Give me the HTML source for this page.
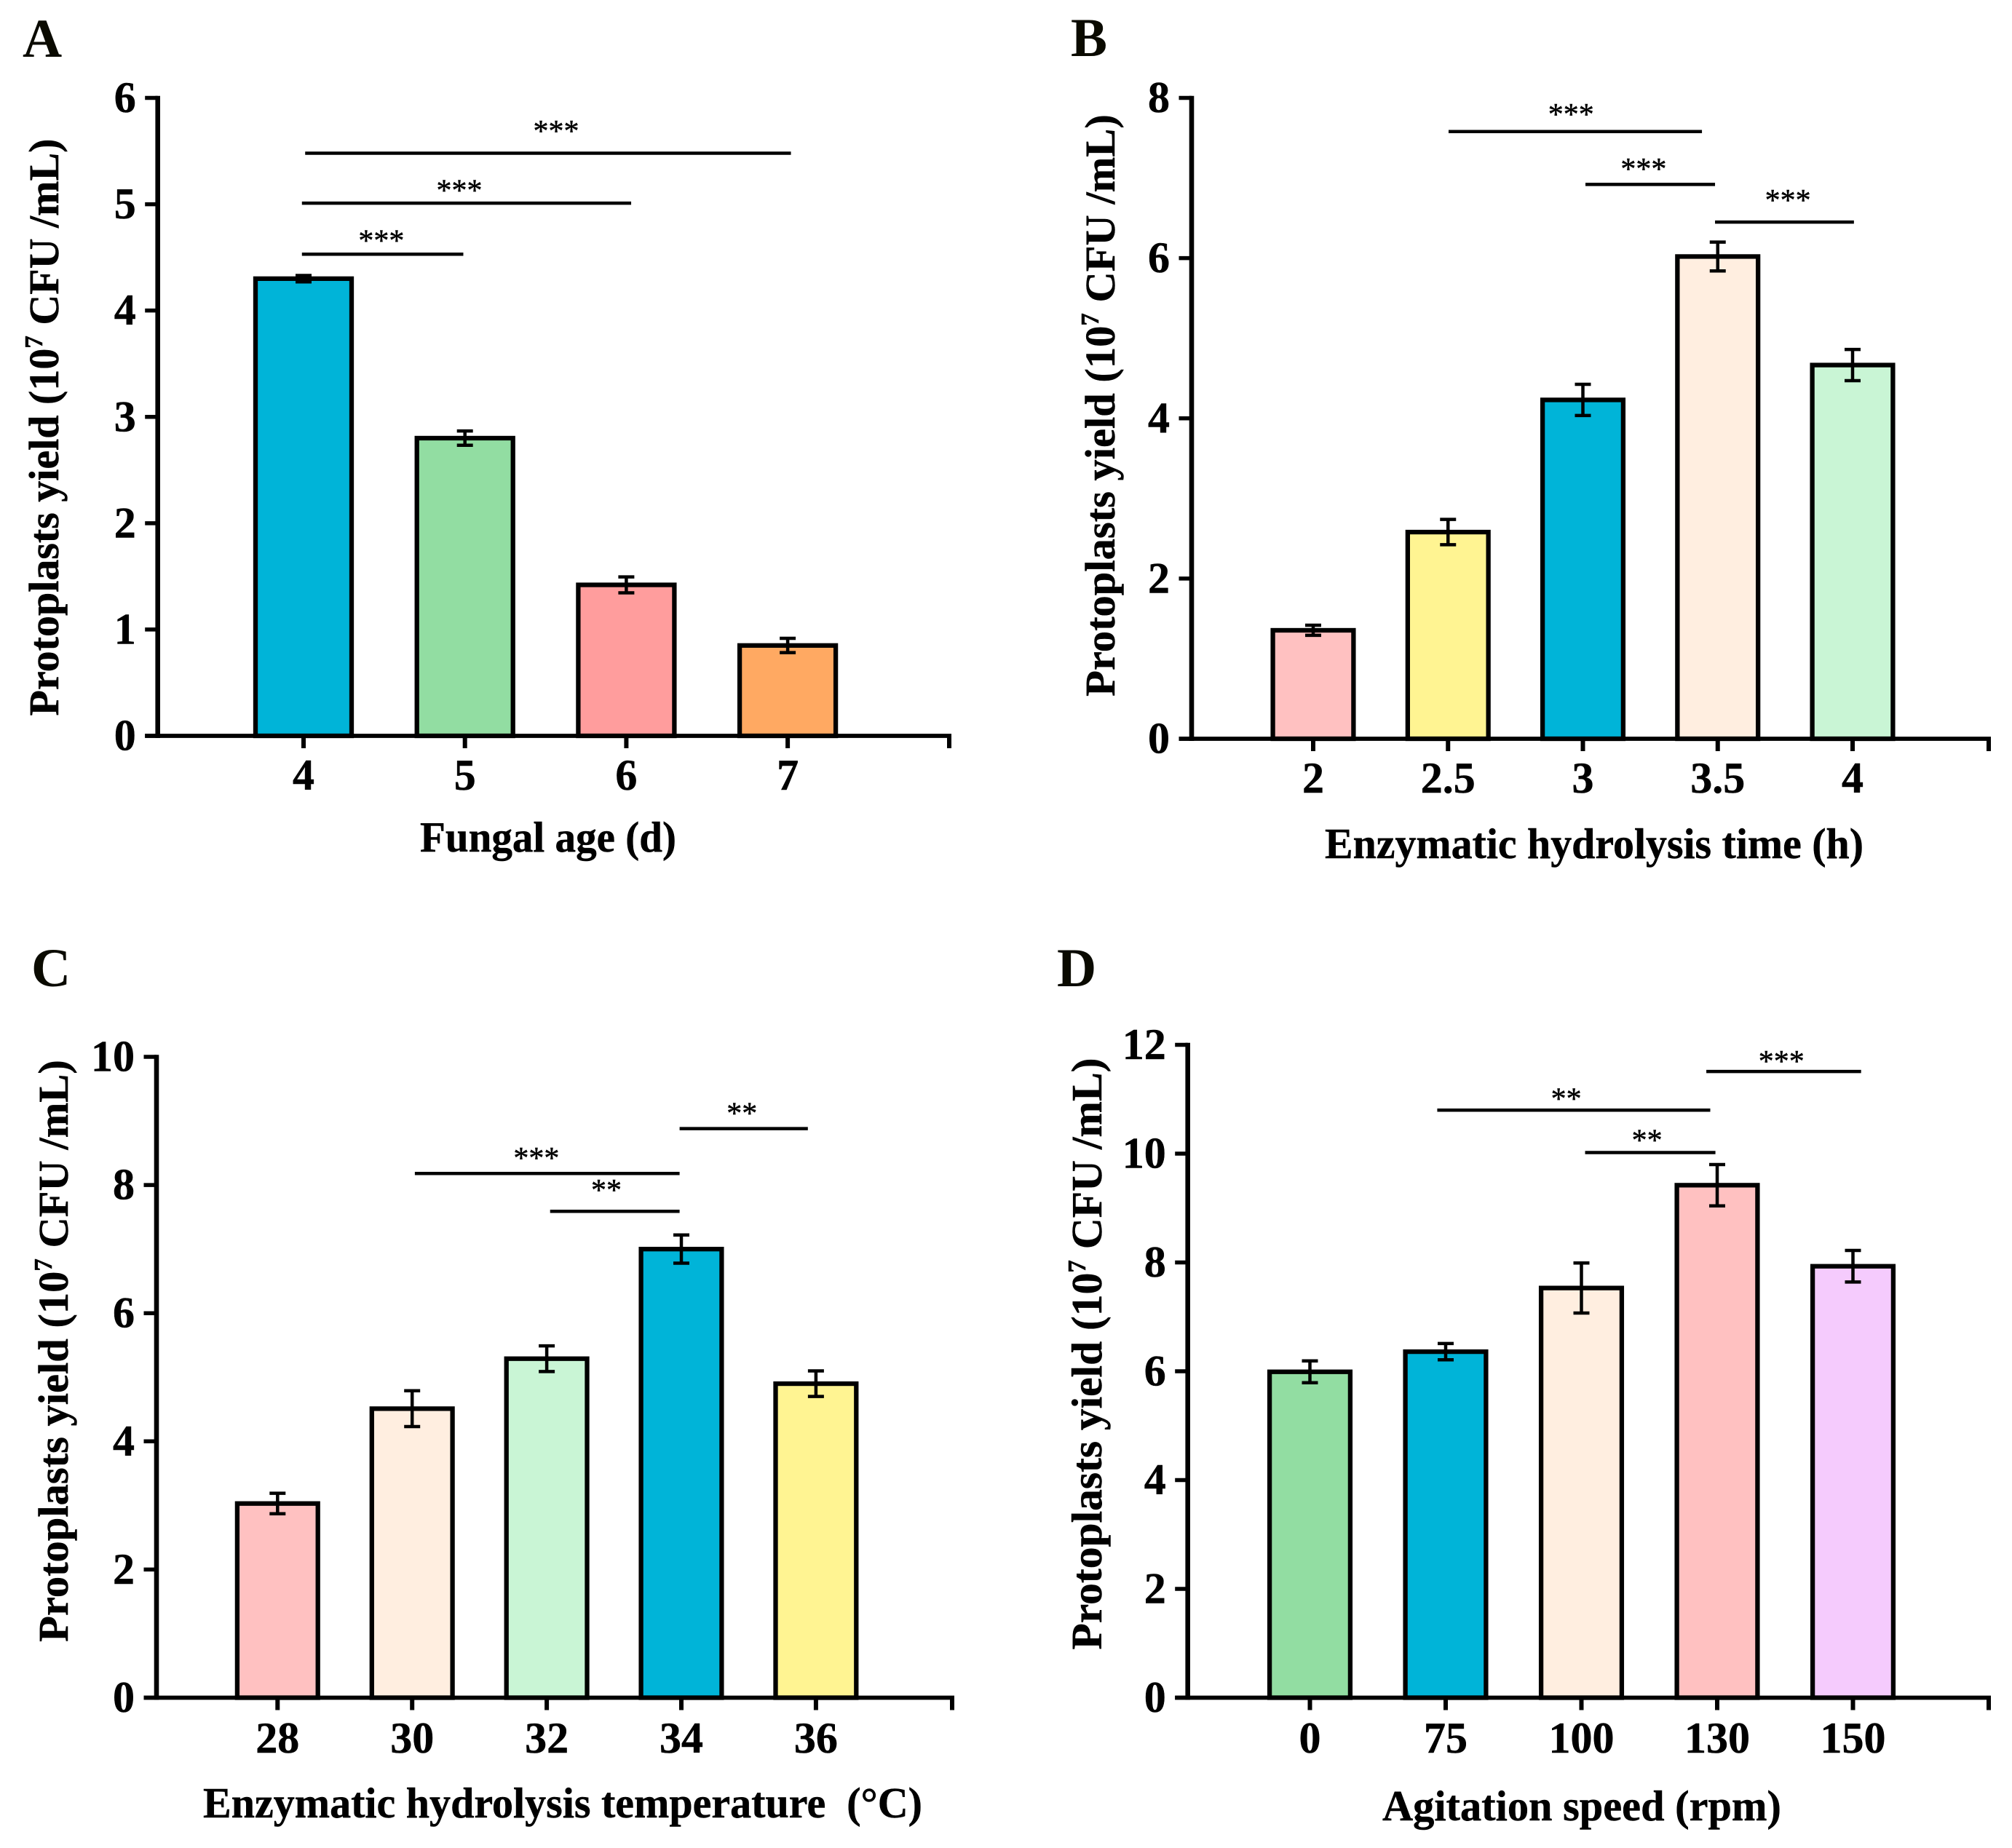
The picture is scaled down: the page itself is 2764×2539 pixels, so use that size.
<!DOCTYPE html>
<html lang="en">
<head>
<meta charset="utf-8">
<title>Protoplast yield bar charts</title>
<style>
html,body{margin:0;padding:0;background:#fff;}
svg{display:block;}
text{font-family:"Liberation Serif","Times New Roman",serif;fill:#000;}
.tick{font-weight:bold;font-size:60px;stroke:#000;stroke-width:0.5px;}
.title{font-weight:bold;font-size:59px;stroke:#000;stroke-width:0.5px;}
.letter{font-weight:bold;font-size:75px;fill:#0a0a00;}
.star{font-size:42px;font-weight:normal;stroke:#000;stroke-width:0.5px;}
</style>
</head>
<body>
<svg id="figure" xmlns="http://www.w3.org/2000/svg" width="2764" height="2539" viewBox="0 0 2764 2539">
<rect x="0" y="0" width="2764" height="2539" fill="#ffffff"/>

<g id="panel-a"></g>
<g id="panel-b"></g>
<g id="panel-c"></g>
<g id="panel-d"></g>

<text class="letter" x="31" y="78">A</text>
<text class="letter" x="1471" y="77">B</text>
<text class="letter" x="43" y="1355">C</text>
<text class="letter" x="1452" y="1355">D</text>

<text class="title" x="753" y="1170" text-anchor="middle" textLength="352" lengthAdjust="spacingAndGlyphs">Fungal age (d)</text>
<text class="title" x="2190" y="1179" text-anchor="middle" textLength="740" lengthAdjust="spacingAndGlyphs">Enzymatic hydrolysis time (h)</text>
<text class="title" x="773" y="2497" text-anchor="middle" textLength="988" lengthAdjust="spacingAndGlyphs" xml:space="preserve">Enzymatic hydrolysis temperature&#160;&#160;(°C)</text>
<text class="title" x="2173" y="2501" text-anchor="middle" textLength="548" lengthAdjust="spacingAndGlyphs">Agitation speed (rpm)</text>

<text class="title" text-anchor="middle" style="font-size:58px" transform="translate(80 587) rotate(-90)">Protoplasts yield (10<tspan font-size="35" dy="-22">7</tspan><tspan dy="22"> CFU /mL)</tspan></text>
<text class="title" text-anchor="middle" style="font-size:58.5px" transform="translate(1531 557) rotate(-90)">Protoplasts yield (10<tspan font-size="35" dy="-22">7</tspan><tspan dy="22"> CFU /mL)</tspan></text>
<text class="title" text-anchor="middle" style="font-size:58.5px" transform="translate(93 1856) rotate(-90)">Protoplasts yield (10<tspan font-size="35" dy="-22">7</tspan><tspan dy="22"> CFU /mL)</tspan></text>
<text class="title" text-anchor="middle" style="font-size:59.5px" transform="translate(1513 1860) rotate(-90)">Protoplasts yield (10<tspan font-size="35" dy="-22">7</tspan><tspan dy="22"> CFU /mL)</tspan></text>
</svg>

<script>
// Panel A: fungal age
const aCategories = ['4', '5', '6', '7'];
const aValues = [4.30, 2.80, 1.42, 0.85];
const aErrors = [0.03, 0.067, 0.075, 0.067];
const aColors = ['#00b4d8', '#92dda2', '#ff9d9d', '#ffa962'];
const aTicks = [0, 1, 2, 3, 4, 5, 6];
const aSigStart = [0.01, -0.01, -0.01];
const aSigEnd = [3.02, 2.03, 0.99];
const aSigLevel = [5.48, 5.01, 4.53];
const aSigLabels = ['***', '***', '***'];
const aSigLabelAt = [1.565, 0.965, 0.482];
const aSigLabelLevel = [5.73, 5.17, 4.70];

// Panel B: hydrolysis time
const bCategories = ['2', '2.5', '3', '3.5', '4'];
const bValues = [1.354, 2.58, 4.23, 6.02, 4.665];
const bErrors = [0.063, 0.158, 0.195, 0.18, 0.195];
const bColors = ['#ffc1c1', '#fff492', '#00b4d8', '#ffeee0', '#c9f5d5'];
const bTicks = [0, 2, 4, 6, 8];
const bSigStart = [1.004, 2.019, 2.98];
const bSigEnd = [2.883, 2.98, 4.01];
const bSigLevel = [7.58, 6.92, 6.45];
const bSigLabels = ['***', '***', '***'];
const bSigLabelAt = [1.912, 2.45, 3.52];
const bSigLabelLevel = [7.85, 7.17, 6.78];

// Panel C: hydrolysis temperature
const cCategories = ['28', '30', '32', '34', '36'];
const cValues = [3.03, 4.51, 5.29, 7.0, 4.9];
const cErrors = [0.16, 0.28, 0.2, 0.22, 0.2];
const cColors = ['#ffc1c1', '#ffeee0', '#c9f5d5', '#00b4d8', '#fff492'];
const cTicks = [0, 2, 4, 6, 8, 10];
const cSigStart = [2.987, 1.02, 2.025];
const cSigEnd = [3.94, 2.987, 2.987];
const cSigLevel = [8.88, 8.18, 7.59];
const cSigLabels = ['**', '***', '**'];
const cSigLabelAt = [3.45, 1.923, 2.443];
const cSigLabelLevel = [9.19, 8.49, 7.99];

// Panel D: agitation speed
const dCategories = ['0', '75', '100', '130', '150'];
const dValues = [5.99, 6.36, 7.53, 9.42, 7.93];
const dErrors = [0.2, 0.15, 0.46, 0.38, 0.29];
const dColors = ['#92dda2', '#00b4d8', '#ffeee0', '#ffc1c1', '#f5cbfd'];
const dTicks = [0, 2, 4, 6, 8, 10, 12];
const dSigStart = [2.92, 0.938, 2.027];
const dSigEnd = [4.06, 2.949, 2.987];
const dSigLevel = [11.51, 10.8, 10.02];
const dSigLabels = ['***', '**', '**'];
const dSigLabelAt = [3.473, 1.888, 2.483];
const dSigLabelLevel = [11.78, 11.09, 10.33];

const SVG_NS = 'http://www.w3.org/2000/svg';

function makeLine(parent, x1, y1, x2, y2, width) {
  const el = document.createElementNS(SVG_NS, 'line');
  el.setAttribute('x1', x1);
  el.setAttribute('y1', y1);
  el.setAttribute('x2', x2);
  el.setAttribute('y2', y2);
  el.setAttribute('stroke', '#000');
  el.setAttribute('stroke-width', width);
  parent.appendChild(el);
  return el;
}

function makeText(parent, x, y, str, cls, anchor) {
  const el = document.createElementNS(SVG_NS, 'text');
  el.setAttribute('x', x);
  el.setAttribute('y', y);
  el.setAttribute('class', cls);
  el.setAttribute('text-anchor', anchor);
  el.textContent = str;
  parent.appendChild(el);
  return el;
}

function drawPanel(cfg) {
  const g = document.getElementById(cfg.id);
  const yMax = cfg.ticks[cfg.ticks.length - 1];
  const xScale = function (i) { return cfg.x0 + i * cfg.step; };
  const yScale = function (v) { return cfg.yBase - v * (cfg.yBase - cfg.yTop) / yMax; };

  // bars
  cfg.values.forEach(function (v, i) {
    const bar = document.createElementNS(SVG_NS, 'rect');
    bar.setAttribute('x', xScale(i) - cfg.halfBar);
    bar.setAttribute('y', yScale(v));
    bar.setAttribute('width', cfg.halfBar * 2);
    bar.setAttribute('height', cfg.yBase - yScale(v));
    bar.setAttribute('fill', cfg.colors[i]);
    bar.setAttribute('stroke', '#000');
    bar.setAttribute('stroke-width', 6.3);
    
    
    g.appendChild(bar);
  });

  // error bars
  cfg.values.forEach(function (v, i) {
    const eg = document.createElementNS(SVG_NS, 'g');
    
    
    g.appendChild(eg);
    const cx = xScale(i);
    const top = yScale(v + cfg.errors[i]);
    const bottom = yScale(v - cfg.errors[i]);
    makeLine(eg, cx, top, cx, bottom, 4.5);
    makeLine(eg, cx - 11, top, cx + 11, top, 4.5);
    makeLine(eg, cx - 11, bottom, cx + 11, bottom, 4.5);
  });

  // y axis
  const yAxis = document.createElementNS(SVG_NS, 'g');
  
  
  g.appendChild(yAxis);
  makeLine(yAxis, cfg.axisX, cfg.yTop - 2.75, cfg.axisX, cfg.yBase + 3, 6.6);
  cfg.ticks.forEach(function (t) {
    const ty = yScale(t);
    makeLine(yAxis, cfg.axisX - 17.5, ty, cfg.axisX, ty, 5.5);
    const label = makeText(yAxis, cfg.axisX - 30, ty + 19.5, String(t), 'tick', 'end');
    
    
  });

  // x axis
  const xAxis = document.createElementNS(SVG_NS, 'g');
  
  
  g.appendChild(xAxis);
  makeLine(xAxis, cfg.axisX - 17.5, cfg.yBase, cfg.axisEnd + 3, cfg.yBase, 5.8);
  makeLine(xAxis, cfg.axisEnd, cfg.yBase, cfg.axisEnd, cfg.yBase + 17, 6);
  cfg.categories.forEach(function (c, i) {
    makeLine(xAxis, xScale(i), cfg.yBase, xScale(i), cfg.yBase + 17, 6);
    const label = makeText(xAxis, xScale(i), cfg.xLabelY, c, 'tick', 'middle');
    
    
  });

  // significance brackets
  cfg.sigLevel.forEach(function (lvl, i) {
    const sg = document.createElementNS(SVG_NS, 'g');
    
    
    g.appendChild(sg);
    makeLine(sg, xScale(cfg.sigStart[i]), yScale(lvl), xScale(cfg.sigEnd[i]), yScale(lvl), 4.5);
    makeText(sg, xScale(cfg.sigLabelAt[i]), yScale(cfg.sigLabelLevel[i]) + 20, cfg.sigLabels[i], 'star', 'middle');
  });
}

drawPanel({ id: 'panel-a', x0: 417, step: 221.7, yBase: 1011, yTop: 134.5, axisX: 216.7, axisEnd: 1304, xLabelY: 1085, halfBar: 66,
  categories: aCategories, values: aValues, errors: aErrors, colors: aColors, ticks: aTicks,
  sigStart: aSigStart, sigEnd: aSigEnd, sigLevel: aSigLevel, sigLabels: aSigLabels, sigLabelAt: aSigLabelAt, sigLabelLevel: aSigLabelLevel });

drawPanel({ id: 'panel-b', x0: 1804, step: 185.25, yBase: 1015, yTop: 134.5, axisX: 1637, axisEnd: 2732, xLabelY: 1089, halfBar: 55.4,
  categories: bCategories, values: bValues, errors: bErrors, colors: bColors, ticks: bTicks,
  sigStart: bSigStart, sigEnd: bSigEnd, sigLevel: bSigLevel, sigLabels: bSigLabels, sigLabelAt: bSigLabelAt, sigLabelLevel: bSigLabelLevel });

drawPanel({ id: 'panel-c', x0: 381.3, step: 184.9, yBase: 2332.5, yTop: 1452, axisX: 215, axisEnd: 1308, xLabelY: 2408, halfBar: 55.4,
  categories: cCategories, values: cValues, errors: cErrors, colors: cColors, ticks: cTicks,
  sigStart: cSigStart, sigEnd: cSigEnd, sigLevel: cSigLevel, sigLabels: cSigLabels, sigLabelAt: cSigLabelAt, sigLabelLevel: cSigLabelLevel });

drawPanel({ id: 'panel-d', x0: 1799.5, step: 186.5, yBase: 2332.5, yTop: 1435.5, axisX: 1631.7, axisEnd: 2732, xLabelY: 2408, halfBar: 55.4,
  categories: dCategories, values: dValues, errors: dErrors, colors: dColors, ticks: dTicks,
  sigStart: dSigStart, sigEnd: dSigEnd, sigLevel: dSigLevel, sigLabels: dSigLabels, sigLabelAt: dSigLabelAt, sigLabelLevel: dSigLabelLevel });
</script>
</body>
</html>
